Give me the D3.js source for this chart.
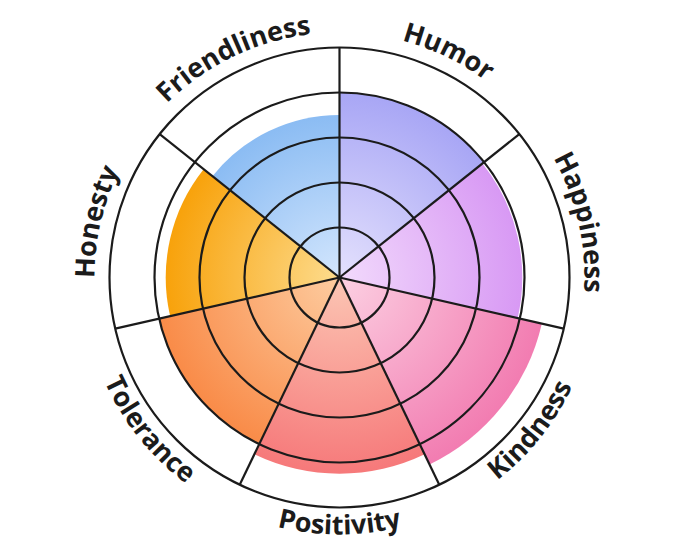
<!DOCTYPE html>
<html>
<head>
<meta charset="utf-8">
<script src="https://cdn.jsdelivr.net/npm/d3@7"></script>
<style>
html,body{margin:0;padding:0;background:#fff;}
svg{display:block;}
</style>
</head>
<body>
<svg id="chart" width="680" height="557"></svg>
<script>
const categories = ["Humor","Happiness","Kindness","Positivity","Tolerance","Honesty","Friendliness"];
const values = [4.0, 3.95, 4.5, 4.25, 4.0, 3.75, 3.5];
const ringTicks = [1, 2, 3, 4, 5];
const edgeColors = ["#a8a6f5","#d899f4","#f27cb1","#f6797a","#f98b48","#f8a20b","#8bbcf3"];
const centerColors = ["#e4e1fd","#f2dafc","#fcd0e2","#fcc6b4","#fdcca0","#fddc8e","#d3e6fd"];

const W = 680, H = 557, cx = 339.5, cy = 277.5;
const svg = d3.select("#chart");
const defs = svg.append("defs");
const g = svg.append("g").attr("transform", `translate(${cx},${cy})`);

const r = d3.scaleLinear().domain([0, 5]).range([5, 230]);
const ang = d3.scaleBand().domain(categories).range([0, 2 * Math.PI]).padding(0);
const step = ang.bandwidth();

// gradients
categories.forEach((c, i) => {
  const gr = defs.append("radialGradient")
    .attr("id", "grad" + i)
    .attr("gradientUnits", "userSpaceOnUse")
    .attr("cx", 0).attr("cy", 0).attr("fx", 0).attr("fy", 0)
    .attr("r", r(values[i]));
  gr.append("stop").attr("offset", "0%").attr("stop-color", centerColors[i]);
  gr.append("stop").attr("offset", "100%").attr("stop-color", edgeColors[i]);
});

const arc = d3.arc().innerRadius(0);
g.selectAll("path.sector").data(categories).join("path")
  .attr("class", "sector")
  .attr("d", (c, i) => arc({outerRadius: r(values[i]), startAngle: ang(c), endAngle: ang(c) + step}))
  .attr("fill", (c, i) => `url(#grad${i})`);

const stroke = "#1b1b1b", sw = 2.2;
// rings
g.selectAll("circle.ring").data(ringTicks).join("circle")
  .attr("class", "ring")
  .attr("r", d => r(d))
  .attr("fill", "none").attr("stroke", stroke).attr("stroke-width", sw);

// spokes
g.selectAll("line.spoke").data(categories).join("line")
  .attr("class", "spoke")
  .attr("x1", 0).attr("y1", 0)
  .attr("x2", c => r(5) * Math.sin(ang(c)))
  .attr("y2", c => -r(5) * Math.cos(ang(c)))
  .attr("stroke", stroke).attr("stroke-width", sw);

// labels
function pt(rad, a) { return [rad * Math.sin(a), -rad * Math.cos(a)]; }
categories.forEach((c, i) => {
  const mid = ang(c) + step / 2;
  const bottom = Math.cos(mid) < -0.1;
  const span = Math.PI / 3;
  let d;
  if (!bottom) {
    const R = 245;
    const p1 = pt(R, mid - span), p2 = pt(R, mid + span);
    d = `M${p1[0]},${p1[1]} A${R},${R} 0 0 1 ${p2[0]},${p2[1]}`;
  } else {
    const R = 257;
    const p1 = pt(R, mid + span), p2 = pt(R, mid - span);
    d = `M${p1[0]},${p1[1]} A${R},${R} 0 0 0 ${p2[0]},${p2[1]}`;
  }
  defs.append("path").attr("id", "lp" + i).attr("d", d);
  g.append("text")
    .attr("font-family", "'Open Sans', 'Noto Sans', sans-serif")
    .attr("font-weight", 700)
    .attr("font-size", 27)
    .attr("fill", "#1b1b1b")
    .append("textPath")
    .attr("href", "#lp" + i)
    .attr("startOffset", "50%")
    .attr("text-anchor", "middle")
    .text(c);
});
</script>
</body>
</html>
